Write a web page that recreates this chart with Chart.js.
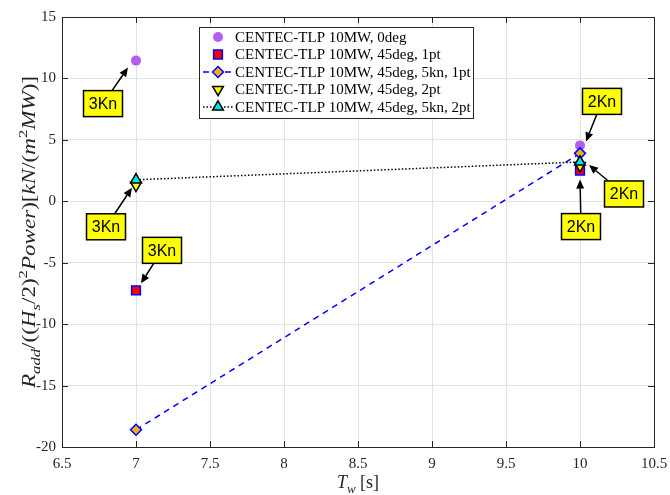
<!DOCTYPE html>
<html><head><meta charset="utf-8">
<script src="https://cdn.jsdelivr.net/npm/chart.js@4/dist/chart.umd.min.js"></script>
<style>html,body{margin:0;padding:0;background:#fff}#wrap{width:670px;height:495px;position:relative}</style>
</head><body><div id="wrap"><canvas id="c" width="670" height="495"></canvas></div>
<script>
// ---- data ----
const periods = [7, 10];
const seriesNames = [
  'CENTEC-TLP 10MW, 0deg',
  'CENTEC-TLP 10MW, 45deg, 1pt',
  'CENTEC-TLP 10MW, 45deg, 5kn, 1pt',
  'CENTEC-TLP 10MW, 45deg, 2pt',
  'CENTEC-TLP 10MW, 45deg, 5kn, 2pt'
];
const s0deg      = [11.45, 4.55];
const s45_1pt    = [-7.25, 2.5];
const s45_5kn1pt = [-18.6, 3.9];
const s45_2pt    = [1.3, 2.9];
const s45_5kn2pt = [1.75, 3.2];
const xTickVals = [6.5, 7, 7.5, 8, 8.5, 9, 9.5, 10, 10.5];
const yTickVals = [-20, -15, -10, -5, 0, 5, 10, 15];
const noteLabels = ['3Kn', '3Kn', '3Kn', '2Kn', '2Kn', '2Kn'];
const noteSeries = [0, 4, 1, 0, 4, 1];
const notePoint  = [0, 0, 0, 1, 1, 1];

// ---- styles ----
const styles = [
  {pointStyle:'circle', radius:5, bg:'#b15ef2', border:'#b15ef2', bw:0, line:false},
  {pointStyle:'rect', radius:6.2, bg:'#ff0000', border:'#0000ff', bw:1.5, line:false},
  {pointStyle:'rectRot', radius:5.5, bg:'#edb120', border:'#0000ff', bw:1.5, line:true, lineColor:'#0000ff', dash:[6,5]},
  {pointStyle:'triangle', radius:6.2, rot:180, bg:'#ffff00', border:'#000000', bw:1.5, line:false},
  {pointStyle:'triangle', radius:6.2, bg:'#00e5ee', border:'#000000', bw:1.5, line:true, lineColor:'#000000', dash:[1.5,2]}
];
const allSeries = [s0deg, s45_1pt, s45_5kn1pt, s45_2pt, s45_5kn2pt];
// offsets (px) of annotation box centre and arrow tip relative to its point
const noteBox = [[-33,43],[-30,47],[26,-40],[22,-44],[44,32],[1,56]];
const noteTip = [[-8,7],[-4,8],[5,-7],[6,-4],[9,3],[0,9]];

const datasets = allSeries.map((vals, i) => {
  const s = styles[i];
  return {
    label: seriesNames[i],
    data: periods.map((p, k) => ({x: p, y: vals[k]})),
    showLine: s.line,
    borderColor: s.line ? s.lineColor : s.border,
    borderWidth: s.line ? 1.5 : 0,
    borderDash: s.dash || [],
    pointStyle: s.pointStyle,
    pointRadius: s.radius,
    pointHoverRadius: s.radius,
    pointRotation: s.rot || 0,
    pointBackgroundColor: s.bg,
    pointBorderColor: s.border,
    pointBorderWidth: s.bw,
    order: 10 - i,
    tension: 0
  };
});

const AX = '#262626';
const serif = '"Liberation Serif", "DejaVu Serif", serif';

function drawMarker(ctx, s, x, y) {
  ctx.save();
  ctx.fillStyle = s.bg; ctx.strokeStyle = s.border; ctx.lineWidth = s.bw;
  Chart.helpers.drawPoint(ctx, {pointStyle: s.pointStyle, radius: s.radius, rotation: s.rot || 0, borderWidth: s.bw}, x, y);
  ctx.restore();
}

// draws mixed-style text centred at (cx, cy); optional target length stretches it along the baseline
function drawRich(ctx, segs, size, cx, cy, target) {
  const f = (sg) => `${sg.it ? 'italic ' : ''}${sg.sub || sg.sup ? Math.round(size * 0.72) : size}px ${serif}`;
  let w = 0;
  segs.forEach(sg => { ctx.font = f(sg); sg.w = ctx.measureText(sg.t).width; w += sg.w; });
  const k = target ? target / w : 1;
  ctx.save();
  ctx.translate(cx, cy);
  ctx.scale(k, 1);
  let x = -w / 2;
  segs.forEach(sg => {
    ctx.font = f(sg);
    const dy = sg.sub ? size * 0.28 : sg.sup ? -size * 0.42 : 0;
    ctx.fillText(sg.t, x, dy);
    x += sg.w;
  });
  ctx.restore();
}

const decor = {
  id: 'decor',
  afterDatasetsDraw(chart) {
    const ctx = chart.ctx, a = chart.chartArea;
    const xs = chart.scales.x, ys = chart.scales.y;
    ctx.save();
    // frame
    ctx.strokeStyle = AX; ctx.lineWidth = 1;
    ctx.strokeRect(Math.round(a.left) + 0.5, Math.round(a.top) + 0.5, Math.round(a.right - a.left), Math.round(a.bottom - a.top));
    // inward ticks
    ctx.beginPath();
    xTickVals.forEach(v => {
      const px = Math.round(xs.getPixelForValue(v)) + 0.5;
      ctx.moveTo(px, a.bottom); ctx.lineTo(px, a.bottom - 6);
      ctx.moveTo(px, a.top); ctx.lineTo(px, a.top + 6);
    });
    yTickVals.forEach(v => {
      const py = Math.round(ys.getPixelForValue(v)) + 0.5;
      ctx.moveTo(a.left, py); ctx.lineTo(a.left + 6, py);
      ctx.moveTo(a.right, py); ctx.lineTo(a.right - 6, py);
    });
    ctx.stroke();

    // annotations
    noteLabels.forEach((lab, i) => {
      const sv = allSeries[noteSeries[i]], k = notePoint[i];
      const px = xs.getPixelForValue(periods[k]), py = ys.getPixelForValue(sv[k]);
      const bx = px + noteBox[i][0], by = py + noteBox[i][1];
      const tx = px + noteTip[i][0], ty = py + noteTip[i][1];
      const bw = 39, bh = 26;
      const dx = tx - bx, dy = ty - by;
      const t = Math.min(Math.abs((bw / 2) / (dx || 1e-6)), Math.abs((bh / 2) / (dy || 1e-6)));
      const sx = bx + dx * t, sy = by + dy * t;
      ctx.strokeStyle = '#000'; ctx.fillStyle = '#000'; ctx.lineWidth = 1.5;
      const ang = Math.atan2(ty - sy, tx - sx), hl = 9, hw = 4;
      const ex = tx - Math.cos(ang) * hl, ey = ty - Math.sin(ang) * hl;
      ctx.beginPath(); ctx.moveTo(sx, sy); ctx.lineTo(ex, ey); ctx.stroke();
      ctx.beginPath();
      ctx.moveTo(tx, ty);
      ctx.lineTo(ex + Math.sin(ang) * hw, ey - Math.cos(ang) * hw);
      ctx.lineTo(ex - Math.sin(ang) * hw, ey + Math.cos(ang) * hw);
      ctx.closePath(); ctx.fill();
      ctx.fillStyle = '#ffff00';
      ctx.fillRect(bx - bw / 2, by - bh / 2, bw, bh);
      ctx.strokeStyle = '#000'; ctx.lineWidth = 1.5;
      ctx.strokeRect(bx - bw / 2, by - bh / 2, bw, bh);
      ctx.fillStyle = '#000';
      ctx.font = '16px "Liberation Sans", Arial, sans-serif';
      ctx.textAlign = 'center'; ctx.textBaseline = 'middle';
      ctx.fillText(lab, bx, by + 1);
    });

    // legend
    const lx = 199, ly = 27, lw = 274, lh = 91;
    ctx.fillStyle = '#fff'; ctx.fillRect(lx, ly, lw, lh);
    ctx.strokeStyle = AX; ctx.lineWidth = 1; ctx.setLineDash([]);
    ctx.strokeRect(lx + 0.5, ly + 0.5, lw, lh);
    ctx.textAlign = 'left'; ctx.textBaseline = 'middle';
    seriesNames.forEach((nm, i) => {
      const ry = 37 + i * 17.5, s = styles[i];
      if (s.line) {
        ctx.save(); ctx.strokeStyle = s.lineColor; ctx.lineWidth = 1.5; ctx.setLineDash(s.dash);
        ctx.beginPath(); ctx.moveTo(203, ry); ctx.lineTo(233, ry); ctx.stroke(); ctx.restore();
      }
      drawMarker(ctx, s, 218, ry);
      ctx.fillStyle = '#000'; ctx.font = `15px ${serif}`;
      ctx.fillText(nm, 235, ry + 1);
    });

    // axis titles
    ctx.fillStyle = AX; ctx.textAlign = 'left'; ctx.textBaseline = 'alphabetic';
    drawRich(ctx, [{t:'T', it:true}, {t:'w', it:true, sub:true}, {t:' [s]'}], 18, (a.left + a.right) / 2, 488);
    ctx.save();
    ctx.translate(35, (a.top + a.bottom) / 2);
    ctx.rotate(-Math.PI / 2);
    drawRich(ctx, [
      {t:'R', it:true}, {t:'add', it:true, sub:true}, {t:'/(('}, {t:'H', it:true}, {t:'s', it:true, sub:true},
      {t:'/2)'}, {t:'2', sup:true}, {t:'Power', it:true}, {t:')['}, {t:'kN', it:true}, {t:'/('},
      {t:'m', it:true}, {t:'2', sup:true}, {t:'MW', it:true}, {t:')]'}
    ], 18, 0, 0, 312);
    ctx.restore();
    ctx.restore();
  }
};

new Chart(document.getElementById('c'), {
  type: 'scatter',
  data: {datasets},
  options: {
    responsive: false,
    animation: false,
    devicePixelRatio: 1,
    layout: {padding: {left: 0, right: 16, top: 17, bottom: 0}},
    plugins: {legend: {display: false}, tooltip: {enabled: false}, title: {display: false}},
    scales: {
      x: {
        type: 'linear', min: 6.5, max: 10.5,
        afterBuildTicks: (sc) => { sc.ticks = xTickVals.map(v => ({value: v})); },
        afterFit: (sc) => { sc.height = 48; sc.paddingLeft = 0; sc.paddingRight = 0; },
        grid: {color: '#e3e3e3', lineWidth: 1, drawTicks: false},
        border: {display: false},
        ticks: {padding: 8, color: AX, font: {family: serif, size: 15}, maxRotation: 0, callback: (v) => String(v)}
      },
      y: {
        type: 'linear', min: -20, max: 15,
        afterBuildTicks: (sc) => { sc.ticks = yTickVals.map(v => ({value: v})); },
        afterFit: (sc) => { sc.width = 62; sc.paddingTop = 0; sc.paddingBottom = 0; },
        grid: {color: '#e3e3e3', lineWidth: 1, drawTicks: false},
        border: {display: false},
        ticks: {padding: 6, color: AX, font: {family: serif, size: 15}, callback: (v) => String(v)}
      }
    }
  },
  plugins: [decor]
});
</script></body></html>
